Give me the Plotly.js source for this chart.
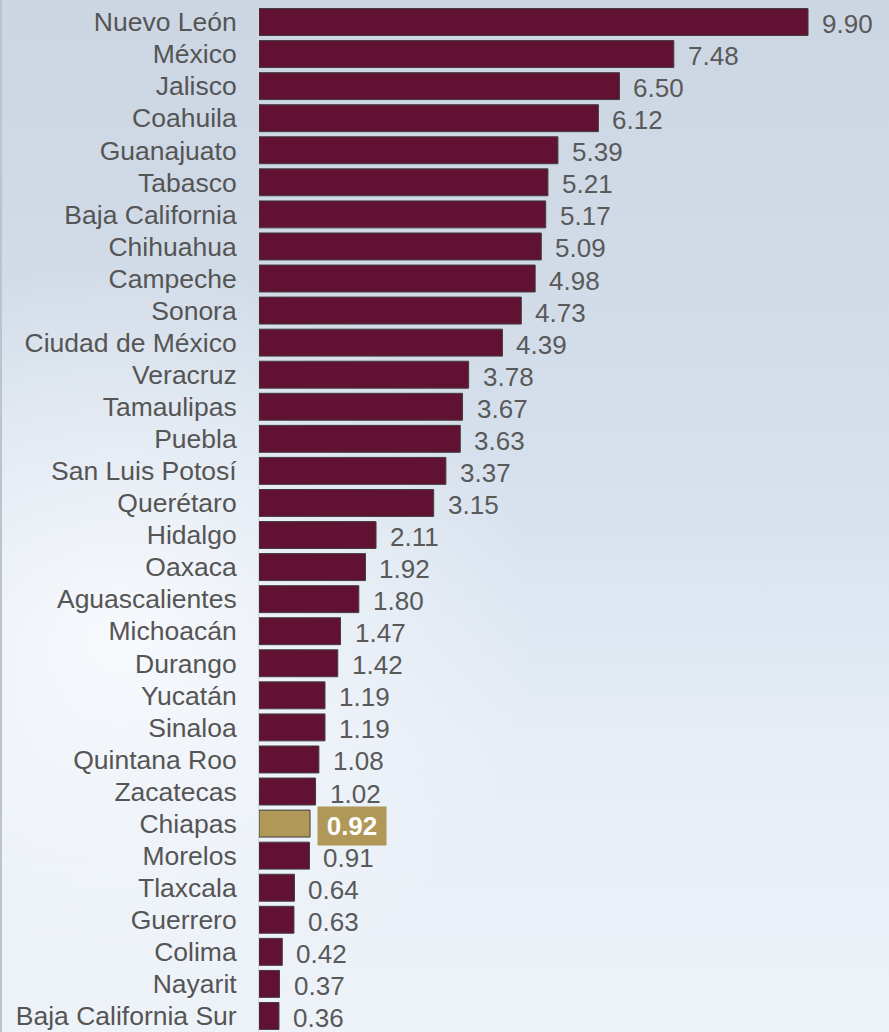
<!DOCTYPE html>
<html>
<head>
<meta charset="utf-8">
<script src="https://cdn.plot.ly/plotly-3.0.1.min.js"></script>
<style>
  html, body { margin: 0; padding: 0; }
  body {
    width: 889px; height: 1032px; overflow: hidden; position: relative;
    background:
      radial-gradient(ellipse 420px 380px at 120px 640px, rgba(248,250,253,0.95), rgba(248,250,253,0) 100%),
      linear-gradient(to bottom, #ccd6e3 0%, #d2dce8 30%, #d8e2ee 50%, #e6edf6 72%, #eef3f9 100%);
  }
  #leftline { position: absolute; left: 0; top: 0; width: 2px; height: 1032px; background: #bcc3cb; }
  #chart { width: 889px; height: 1032px; position: absolute; left: 0; top: 0; }
</style>
</head>
<body>
<div id="chart"></div>
<div id="leftline"></div>
<script>
const categories = [
  "Nuevo León", "México", "Jalisco", "Coahuila", "Guanajuato", "Tabasco",
  "Baja California", "Chihuahua", "Campeche", "Sonora", "Ciudad de México",
  "Veracruz", "Tamaulipas", "Puebla", "San Luis Potosí", "Querétaro",
  "Hidalgo", "Oaxaca", "Aguascalientes", "Michoacán", "Durango", "Yucatán",
  "Sinaloa", "Quintana Roo", "Zacatecas", "Chiapas", "Morelos", "Tlaxcala",
  "Guerrero", "Colima", "Nayarit", "Baja California Sur"
];
const values = [
  9.90, 7.48, 6.50, 6.12, 5.39, 5.21, 5.17, 5.09, 4.98, 4.73, 4.39,
  3.78, 3.67, 3.63, 3.37, 3.15, 2.11, 1.92, 1.80, 1.47, 1.42, 1.19,
  1.19, 1.08, 1.02, 0.92, 0.91, 0.64, 0.63, 0.42, 0.37, 0.36
];
const highlight = "Chiapas";

const maroon = "#611232";
const gold = "#b09858";
const barColors = categories.map(c => c === highlight ? gold : maroon);

const trace = {
  type: "bar",
  orientation: "h",
  x: values,
  y: categories,
  marker: { color: barColors, line: { color: "#3f3f3f", width: 1 } },
  hoverinfo: "none"
};

const annotations = categories.map((c, i) => {
  const isH = c === highlight;
  const a = {
    x: values[i], y: c, xref: "x", yref: "y",
    text: isH ? "<b>" + values[i].toFixed(2) + "</b>" : values[i].toFixed(2),
    showarrow: false, xanchor: "left", yanchor: "middle",
    xshift: isH ? 7 : 12, yshift: -2,
    font: { family: "Liberation Sans, Arial, sans-serif", size: 26, color: isH ? "#ffffff" : "#595959" },
    bgcolor: isH ? gold : "rgba(0,0,0,0)",
    borderpad: isH ? 5 : 1
  };
  if (isH) { a.width = 58; a.height = 28; a.align = "center"; }
  return a;
});

const layout = {
  width: 889, height: 1032,
  margin: { l: 259, r: 0, t: 3, b: 0 },
  paper_bgcolor: "rgba(0,0,0,0)",
  plot_bgcolor: "rgba(0,0,0,0)",
  bargap: 0.16,
  showlegend: false,
  font: { family: "Liberation Sans, Arial, sans-serif", size: 26, color: "#595959" },
  xaxis: {
    range: [0, 11.36], visible: false, fixedrange: true
  },
  yaxis: {
    autorange: "reversed", type: "category",
    showline: true, linecolor: "#d4d8dd", linewidth: 1,
    showgrid: false, zeroline: false, ticks: "",
    ticklabelstandoff: 16,
    tickfont: { family: "Liberation Sans, Arial, sans-serif", size: 26.5, color: "#555555" }
  },
  annotations: annotations
};

Plotly.newPlot("chart", [trace], layout, { displayModeBar: false, staticPlot: true });
</script>
</body>
</html>
